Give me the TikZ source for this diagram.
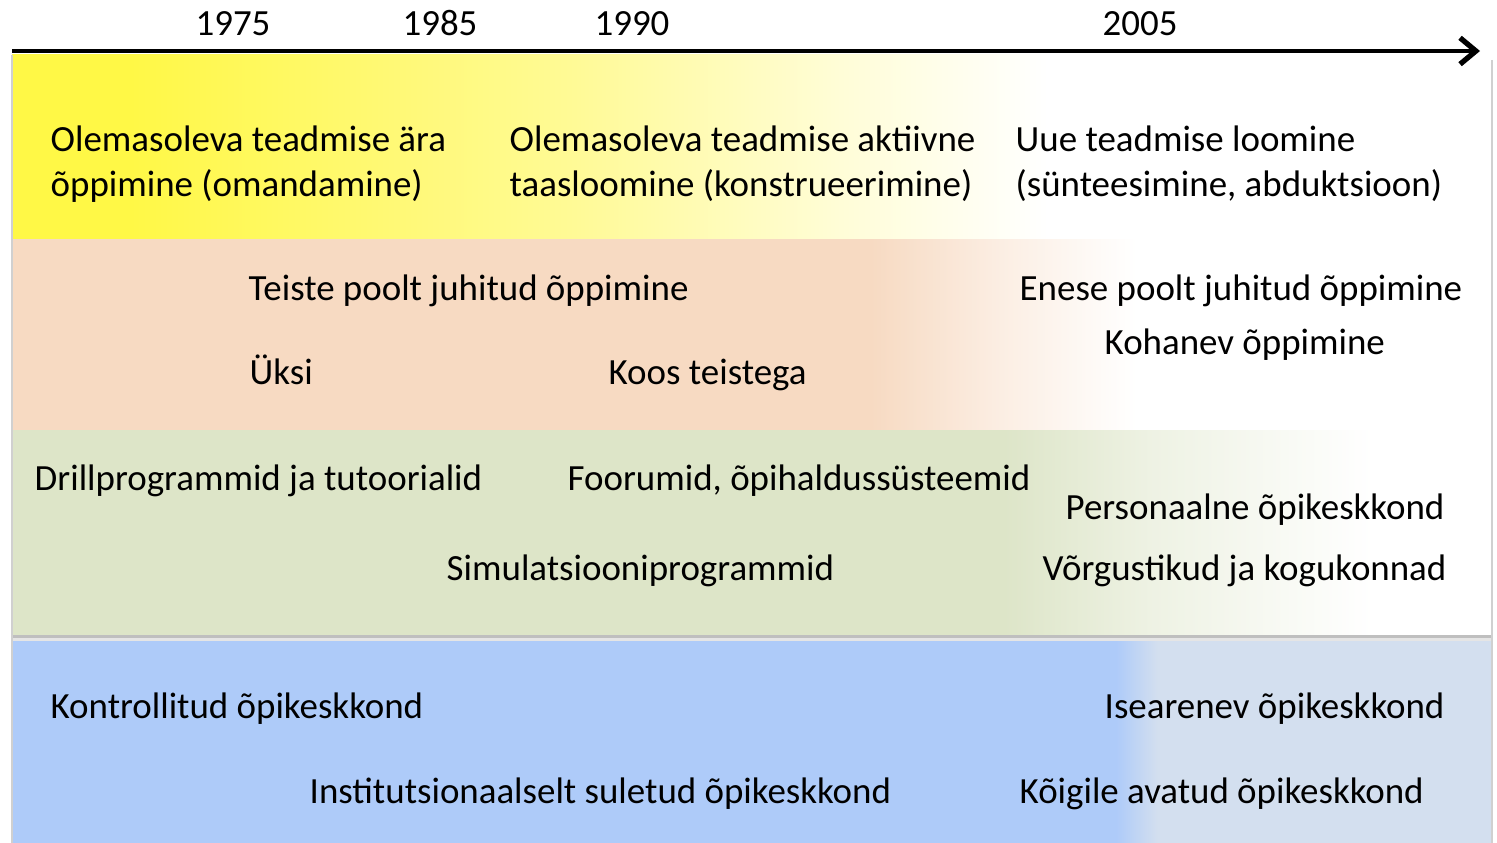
\documentclass[tikz,border=0pt]{standalone}
\usepackage{fontspec}
\setmainfont{Carlito}
\usetikzlibrary{arrows.meta}

\definecolor{ylwA}{RGB}{255,248,70}
\definecolor{ylwB}{RGB}{255,250,150}
\definecolor{ylwC}{RGB}{255,253,215}
\definecolor{peach}{RGB}{247,218,194}
\definecolor{sage}{RGB}{221,229,200}
\definecolor{bluA}{RGB}{174,203,249}
\definecolor{bluB}{RGB}{211,223,239}
\definecolor{rim}{RGB}{208,208,208}

% stops 25bp..75bp cover the band from x=12 to x=1492
\pgfdeclarehorizontalshading{yellowfade}{100bp}{color(0bp)=(ylwA); color(29bp)=(ylwA);
  color(44bp)=(ylwB); color(53bp)=(ylwC); color(60bp)=(white); color(100bp)=(white)}
\pgfdeclarehorizontalshading{peachfade}{100bp}{color(0bp)=(peach); color(54bp)=(peach);
  color(58.5bp)=(peach!45); color(63bp)=(white); color(100bp)=(white)}
\pgfdeclarehorizontalshading{sagefade}{100bp}{color(0bp)=(sage); color(58.5bp)=(sage);
  color(63.5bp)=(sage!50); color(71bp)=(white); color(100bp)=(white)}
\pgfdeclarehorizontalshading{bluefade}{100bp}{color(0bp)=(bluA); color(62.3bp)=(bluA);
  color(63.7bp)=(bluB); color(100bp)=(bluB)}

\begin{document}
\begin{tikzpicture}[x=0.01cm,y=-0.01cm,
    lbl/.style={anchor=base west,inner sep=0pt,font=\fontsize{10.5}{12.8}\selectfont},
    twoline/.style={lbl,align=left},
    year/.style={anchor=base,inner sep=0pt,font=\fontsize{10.5}{12.8}\selectfont}]
  %%%%% START %%%%%

  \useasboundingbox (0,0) rectangle (1497,843);

  % bands
  \shade[shading=yellowfade] (12,55) rectangle (1492,240);
  \shade[shading=peachfade] (12,240) rectangle (1492,431);
  \shade[shading=sagefade] (12,431) rectangle (1492,635);
  \shade[shading=bluefade] (12,640) rectangle (1492,843);

  % shadows and rims
  \fill[black!25] (12,634.5) rectangle (1492,638);
  \fill[black!10] (12,638) rectangle (1492,641);
  \draw[rim, line width=0.6pt] (12,55) -- (12,843);
  \draw[rim, line width=0.6pt] (1492,60) -- (1492,843);

  % time axis
  \coordinate (axisL) at (12,51);
  \coordinate (axisR) at (1480,51);
  \draw[line width=1.2pt, -{Straight Barb[length=4.5pt,width=7.5pt,line width=1.5pt]}] (axisL) -- (axisR);

  \node[year] (y1975) at (233,36) {1975};
  \node[year] (y1985) at (440,36) {1985};
  \node[year] (y1990) at (632,36) {1990};
  \node[year] (y2005) at (1140,36) {2005};

  % knowledge (base = last line)
  \node[twoline] (acquire) at (50,197) {Olemasoleva teadmise ära\\õppimine (omandamine)};
  \node[twoline] (rebuild) at (509,197) {Olemasoleva teadmise aktiivne\\taasloomine (konstrueerimine)};
  \node[twoline] (create) at (1015,197) {Uue teadmise loomine\\(sünteesimine, abduktsioon)};

  % learning
  \node[lbl] (others) at (248,301) {Teiste poolt juhitud õppimine};
  \node[lbl] (alone) at (249,385) {Üksi};
  \node[lbl] (together) at (608,385) {Koos teistega};
  \node[lbl] (self) at (1019,301) {Enese poolt juhitud õppimine};
  \node[lbl] (adapt) at (1104,355) {Kohanev õppimine};

  % tools
  \node[lbl] (drill) at (34,490) {Drillprogrammid ja tutoorialid};
  \node[lbl] (forums) at (567,490) {Foorumid, õpihaldussüsteemid};
  \node[lbl] (simul) at (446,580) {Simulatsiooniprogrammid};
  \node[lbl] (personal) at (1065,519) {Personaalne õpikeskkond};
  \node[lbl] (networks) at (1042,580) {Võrgustikud ja kogukonnad};

  % environment
  \node[lbl] (control) at (50,718) {Kontrollitud õpikeskkond};
  \node[lbl] (closed) at (309,803) {Institutsionaalselt suletud õpikeskkond};
  \node[lbl] (evolve) at (1104,718) {Isearenev õpikeskkond};
  \node[lbl] (open) at (1019,803) {Kõigile avatud õpikeskkond};

  %%%%% END %%%%%
\end{tikzpicture}
\end{document}
